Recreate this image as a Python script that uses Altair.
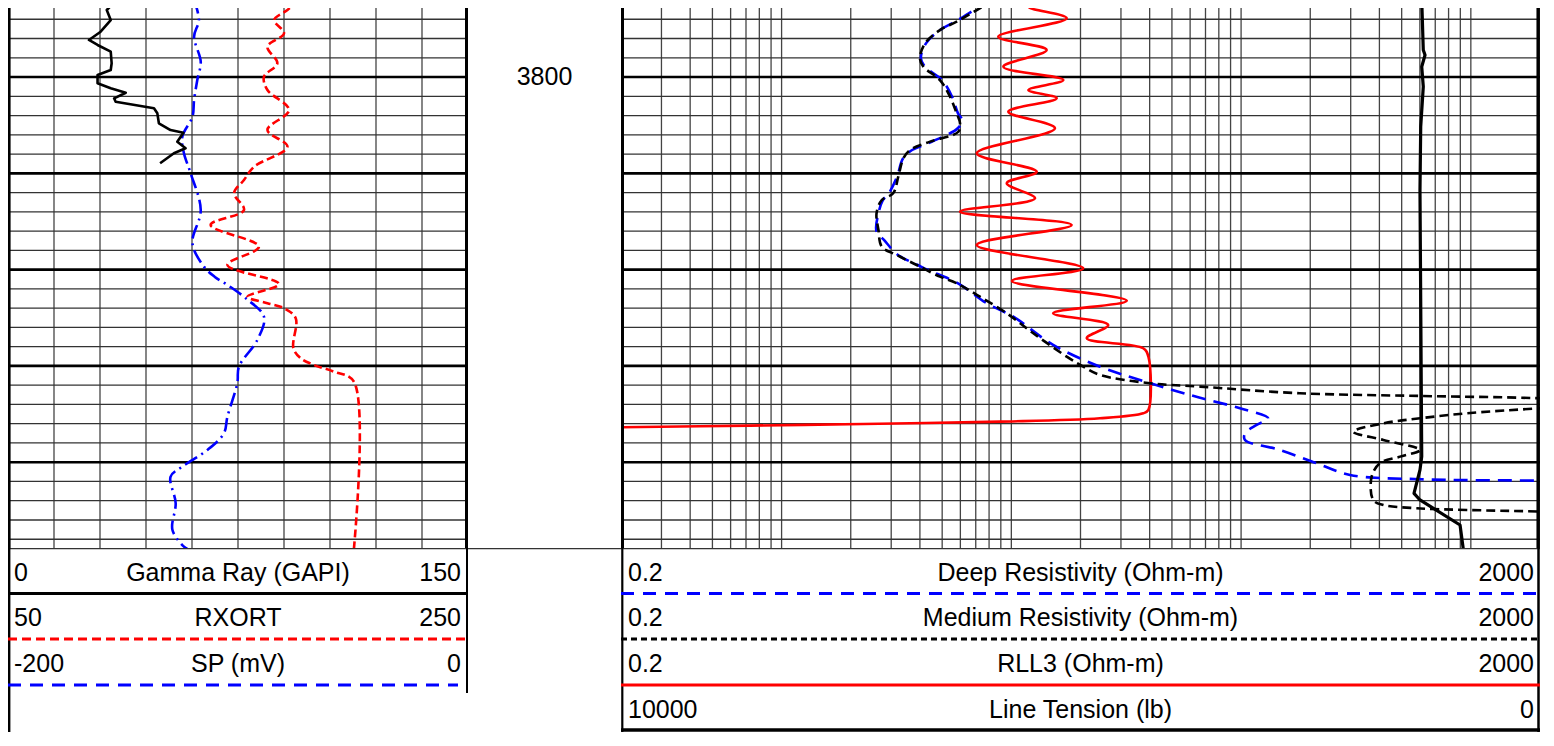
import altair as alt
import pandas as pd

# ---------------- depth window (ft) ----------------
DEPTH_TOP = 3792.83
DEPTH_BOT = 3848.91
major_depths = [3800, 3810, 3820, 3830, 3840]
minor_depths = [3794, 3796, 3798, 3802, 3804, 3806, 3808, 3812, 3814, 3816, 3818,
                3822, 3824, 3826, 3828, 3832, 3834, 3836, 3838, 3842, 3844, 3846, 3848]
depth_labels = [3800]

# ---------------- track 1 curves ----------------
gr_depth = [3792.00, 3792.34, 3793.04, 3794.08, 3795.29, 3796.15, 3796.67, 3797.37, 3798.57,
            3799.27, 3799.79, 3800.65, 3801.17, 3801.63, 3802.21, 3802.56, 3803.25, 3803.77,
            3804.80, 3805.50, 3805.78, 3806.71, 3807.40, 3807.92, 3808.96]
gr_value = [34.5, 34.4, 32.2, 33.5, 30.2, 26.4, 29.2, 33.5, 33.8, 33.5, 29.2, 29.2, 33.5,
            38.4, 34.6, 35.1, 47.6, 48.7, 49.2, 53.0, 57.2, 55.2, 57.9, 54.1, 49.6]

rxort_depth = [3792.00, 3793.04, 3794.08, 3795.46, 3796.85, 3798.57, 3799.96, 3801.35, 3803.42,
               3805.50, 3807.23, 3809.31, 3810.69, 3812.07, 3813.81, 3815.36, 3817.62, 3819.52,
               3821.49, 3822.81, 3823.49, 3824.01, 3825.05, 3828.17, 3829.21, 3829.90, 3830.60,
               3831.64, 3849.00]
rxort_value = [176.5, 171.5, 165.7, 170.0, 162.8, 167.1, 161.3, 162.8, 172.2, 162.8, 171.5,
               157.0, 152.6, 148.3, 152.6, 138.1, 159.1, 145.4, 167.8, 154.1, 162.8, 170.0,
               175.1, 174.1, 177.3, 183.0, 191.7, 200.4, 200.4]

sp_depth = [3792.00, 3794.08, 3795.81, 3798.41, 3800.31, 3802.38, 3804.12, 3806.19, 3807.92,
            3809.99, 3813.81, 3817.26, 3819.69, 3820.73, 3821.59, 3822.98, 3824.89, 3827.31,
            3830.08, 3831.80, 3835.27, 3836.99, 3838.73, 3840.46, 3841.50, 3844.26, 3847.04,
            3848.77, 3849.01]
sp_value = [-119.1, -117.0, -119.1, -116.2, -117.7, -119.1, -119.8, -124.2, -123.5, -120.6,
            -116.2, -119.8, -114.8, -110.2, -104.6, -96.6, -88.7, -91.6, -99.6, -100.3,
            -104.6, -106.1, -113.3, -124.2, -129.3, -127.1, -128.5, -123.5, -122.0]

# ---------------- track 3 curves ----------------
deep_depth = [3792.00, 3793.04, 3794.25, 3795.12, 3796.50, 3798.05, 3798.93, 3800.31, 3802.04,
              3803.77, 3804.46, 3805.29, 3806.71, 3807.58, 3808.44, 3810.35, 3812.07, 3812.77,
              3813.98, 3816.06, 3816.92, 3818.48, 3819.52, 3820.04, 3821.42, 3823.49, 3824.89,
              3827.82, 3830.08, 3831.46, 3833.02, 3834.40, 3835.44, 3836.13, 3837.00, 3837.69,
              3838.73, 3840.11, 3841.32, 3841.77, 3841.92, 3842.15, 3849.01]
deep_value = [8.07, 6.88, 5.69, 4.89, 4.25, 4.04, 4.21, 4.99, 5.52, 5.86, 6.10, 5.86, 4.52,
              3.70, 3.38, 3.18, 2.93, 2.76, 2.65, 2.59, 2.79, 3.21, 3.92, 4.34, 5.86, 7.81,
              10.2, 15.2, 24.32, 36.3, 59.9, 98.9, 131.4, 116.9, 104, 104, 147.7, 213, 298,
              601, 2000, 5000, 5000]

med_depth = [3792.00, 3793.04, 3794.25, 3795.12, 3796.50, 3798.05, 3798.93, 3800.31, 3802.04,
             3803.77, 3804.80, 3805.68, 3806.71, 3807.58, 3808.44, 3810.35, 3812.07, 3812.77,
             3814.15, 3815.88, 3817.62, 3818.48, 3819.52, 3820.73, 3821.42, 3822.81, 3824.53,
             3826.61, 3829.04, 3830.08, 3830.94, 3831.80, 3832.15, 3832.84, 3833.12, 3833.36,
             3833.85, 3834.40, 3834.92, 3835.44, 3835.96, 3836.83, 3837.69, 3838.73, 3839.42,
             3840.11, 3841.50, 3843.92, 3844.44, 3844.78, 3844.96, 3845.13, 3845.48, 3849.01]
med_value = [8.35, 7.07, 5.78, 4.89, 4.21, 4.00, 4.14, 4.89, 5.41, 5.78, 5.98, 5.88, 4.43,
             3.62, 3.39, 3.22, 3.06, 2.73, 2.59, 2.64, 2.73, 3.17, 3.87, 4.89, 5.78, 7.30,
             9.55, 12.46, 17.42, 20.56, 24.32, 40.1, 66.3, 180, 601, 2000, 5000, 2000, 959,
             601, 416, 308, 416, 601, 492, 402, 370, 376, 416, 581, 959, 2000, 5000, 5000]

rll3_depth = [3792.00, 3792.70, 3793.90, 3795.81, 3797.19, 3798.93, 3800.31, 3801.35, 3802.21,
              3803.60, 3805.32, 3807.92, 3809.83, 3811.03, 3812.59, 3813.98, 3815.36, 3817.44,
              3819.86, 3821.18, 3823.22, 3824.53, 3825.75, 3827.13, 3828.17, 3829.04, 3834.57,
              3834.92, 3835.44, 3835.79, 3836.03, 3836.20, 3836.37, 3836.44]
rll3_value = [15.2, 11.86, 17.42, 8.77, 14.25, 9.23, 16.84, 11.86, 15.76, 9.70, 15.49, 7.07,
              12.9, 9.55, 12.68, 5.98, 18.3, 7.07, 20.56, 10.06, 31.8, 15.2, 26.4, 21.3, 37.5,
              39.5, 39.5, 37.5, 24.3, 8.93, 2.27, 0.729, 0.198, 0.15]

tension_depth = [3792.00, 3797.19, 3797.71, 3798.93, 3801.00, 3805.16, 3811.73, 3839.42,
                 3840.80, 3843.23, 3843.92, 3846.52, 3849.01]
tension_value = [1287, 1270, 1251, 1287, 1270, 1298, 1306, 1287, 1306, 1371, 1306, 870, 835]

# ---------------- grids ----------------
gr_grid = [15, 30, 45, 60, 75, 90, 105, 120, 135]
log_grid = [0.3, 0.4, 0.5, 0.6, 0.7, 0.8, 0.9, 1, 2, 3, 4, 5, 6, 7, 8, 9, 10,
            20, 30, 40, 50, 60, 70, 80, 90, 100, 200, 300, 400, 500, 600, 700, 800, 900, 1000]

# ---------------- header texts ----------------
left_names = ["Gamma Ray (GAPI)", "RXORT", "SP (mV)"]
left_lo = ["0", "50", "-200"]
left_hi = ["150", "250", "0"]
right_names = ["Deep Resistivity (Ohm-m)", "Medium Resistivity (Ohm-m)", "RLL3 (Ohm-m)",
               "Line Tension (lb)"]
right_lo = ["0.2", "0.2", "0.2", "10000"]
right_hi = ["2000", "2000", "2000", "0"]

FONT = "Liberation Sans"
FS = 25
W1, W2, W3 = 460, 153, 919
H_TRACK, H_HEAD = 540, 184
DUMMY = pd.DataFrame({"k": [0]})

yscale = alt.Scale(domain=[DEPTH_TOP, DEPTH_BOT], reverse=True, nice=False, zero=False)


def curve(d, v, domain, color, dash=None, width=2.6, log=False, reverse=False,
          interp="linear"):
    sc = alt.Scale(domain=domain, type="log" if log else "linear", nice=False, zero=False,
                   reverse=reverse)
    kw = dict(color=color, strokeWidth=width, clip=True, strokeJoin="round",
              interpolate=interp)
    if dash:
        kw["strokeDash"] = dash
    df = pd.DataFrame({"depth": d, "value": v, "idx": list(range(len(d)))})
    return alt.Chart(df).mark_line(**kw).encode(
        x=alt.X("value:Q", scale=sc, axis=None),
        y=alt.Y("depth:Q", scale=yscale, axis=None),
        order=alt.Order("idx:Q"),
    )


def hgrid():
    minor = alt.Chart(pd.DataFrame({"depth": minor_depths})).mark_rule(
        color="#333333", strokeWidth=1.3, clip=True
    ).encode(y=alt.Y("depth:Q", scale=yscale, axis=None))
    major = alt.Chart(pd.DataFrame({"depth": major_depths})).mark_rule(
        color="black", strokeWidth=2.6, clip=True
    ).encode(y=alt.Y("depth:Q", scale=yscale, axis=None))
    return [minor, major]


def vgrid(vals, domain, log=False):
    sc = alt.Scale(domain=domain, type="log" if log else "linear", nice=False, zero=False)
    return alt.Chart(pd.DataFrame({"value": vals})).mark_rule(
        color="#444444", strokeWidth=1.3, clip=True
    ).encode(x=alt.X("value:Q", scale=sc, axis=None))


def vline(x, y1, y2, width=3, color="black"):
    return alt.Chart(DUMMY).mark_rule(color=color, strokeWidth=width, clip=True).encode(
        x=alt.value(x), y=alt.value(y1), y2=alt.value(y2))


def hline(x1, x2, y, color="black", width=3, dash=None):
    kw = dict(color=color, strokeWidth=width, clip=True)
    if dash:
        kw["strokeDash"] = dash
    return alt.Chart(DUMMY).mark_rule(**kw).encode(
        x=alt.value(x1), x2=alt.value(x2), y=alt.value(y))


def txt(s, x, y, align):
    return alt.Chart(pd.DataFrame({"t": [s]})).mark_text(
        align=align, baseline="middle", font=FONT, fontSize=FS, color="black"
    ).encode(text="t:N", x=alt.value(x), y=alt.value(y))


# ---------------- track 1 ----------------
track1 = alt.layer(
    vgrid(gr_grid, [0, 150]),
    *hgrid(),
    curve(sp_depth, sp_value, [-200, 0], "#0000FF", dash=[14, 5, 2, 5], interp="catmull-rom"),
    curve(rxort_depth, rxort_value, [50, 250], "#FF0000", dash=[8, 4], interp="catmull-rom"),
    curve(gr_depth, gr_value, [0, 150], "black"),
    vline(1.3, 0, H_TRACK, 2.6),
    vline(W1 - 1.5, 0, H_TRACK, 3),
).resolve_scale(x="independent").properties(width=W1, height=H_TRACK)

# ---------------- depth track ----------------
track2 = alt.layer(
    alt.Chart(pd.DataFrame({"depth": depth_labels})).mark_text(
        font=FONT, fontSize=FS, align="center", baseline="middle", color="black", clip=True
    ).encode(
        y=alt.Y("depth:Q", scale=yscale, axis=None),
        x=alt.value(W2 / 2),
        text=alt.Text("depth:Q", format="d"),
    ),
    vline(0.5, 0, H_TRACK, 0.01, "white"),
).properties(width=W2, height=H_TRACK)

# ---------------- track 3 ----------------
track3 = alt.layer(
    vgrid(log_grid, [0.2, 2000], log=True),
    *hgrid(),
    curve(rll3_depth, rll3_value, [0.2, 2000], "#FF0000", log=True, interp="catmull-rom"),
    curve(deep_depth, deep_value, [0.2, 2000], "#0000FF", dash=[14, 8], log=True,
          interp="catmull-rom"),
    curve(med_depth, med_value, [0.2, 2000], "black", dash=[9, 5], log=True,
          interp="catmull-rom"),
    curve(tension_depth, tension_value, [0, 10000], "black", width=3.2, reverse=True),
    vline(1.5, 0, H_TRACK, 3),
    vline(W3 - 1.8, 0, H_TRACK, 3.5),
).resolve_scale(x="independent").properties(width=W3, height=H_TRACK)

# ---------------- headers ----------------
row_y = [24.5, 70, 116, 162]
left_lines = [
    dict(color="black", dash=None, x2=W1),
    dict(color="#FF0000", dash=[9, 5], x2=W1),
    dict(color="#0000FF", dash=[13, 9], x2=W1 - 10),
]
head1_layers = [hline(0, W1, 0.6, "#333333", 1.2), vline(1.2, 0, H_HEAD, 2.4),
                vline(W1 - 1, 0, 145, 2)]
for i, name in enumerate(left_names):
    head1_layers += [txt(left_lo[i], 6, row_y[i], "left"),
                     txt(name, W1 / 2, row_y[i], "center"),
                     txt(left_hi[i], W1 - 7, row_y[i], "right")]
    ln = left_lines[i]
    head1_layers.append(hline(0, ln["x2"], row_y[i] + 21, ln["color"], 3, ln["dash"]))
head1 = alt.layer(*head1_layers).properties(width=W1, height=H_HEAD)

head2 = alt.layer(hline(0, W2, 0.6, "#333333", 1.2)).properties(width=W2, height=H_HEAD)

right_lines = [
    dict(color="#0000FF", dash=[13, 9], w=3),
    dict(color="black", dash=[6, 4], w=3),
    dict(color="#FF0000", dash=None, w=3),
    dict(color="black", dash=None, w=3.5),
]
head3_layers = [hline(0, W3, 0.6, "#333333", 1.2), vline(1.3, 0, H_HEAD, 2.2),
                vline(W3 - 1.5, 0, H_HEAD, 2.5)]
for i, name in enumerate(right_names):
    head3_layers += [txt(right_lo[i], 7, row_y[i], "left"),
                     txt(name, W3 / 2, row_y[i], "center"),
                     txt(right_hi[i], W3 - 6, row_y[i], "right")]
    ln = right_lines[i]
    yy = min(row_y[i] + 21, H_HEAD - 2)
    head3_layers.append(hline(0, W3, yy, ln["color"], ln["w"], ln["dash"]))
head3 = alt.layer(*head3_layers).properties(width=W3, height=H_HEAD)

top = alt.hconcat(track1, track2, track3, spacing=0, bounds="flush")
bottom = alt.hconcat(head1, head2, head3, spacing=0, bounds="flush")

chart = alt.vconcat(top, bottom, spacing=0).properties(
    padding=0, background="white"
).configure_view(stroke=None)

chart.save("out.html", embed_options={"renderer": "svg", "actions": False})
